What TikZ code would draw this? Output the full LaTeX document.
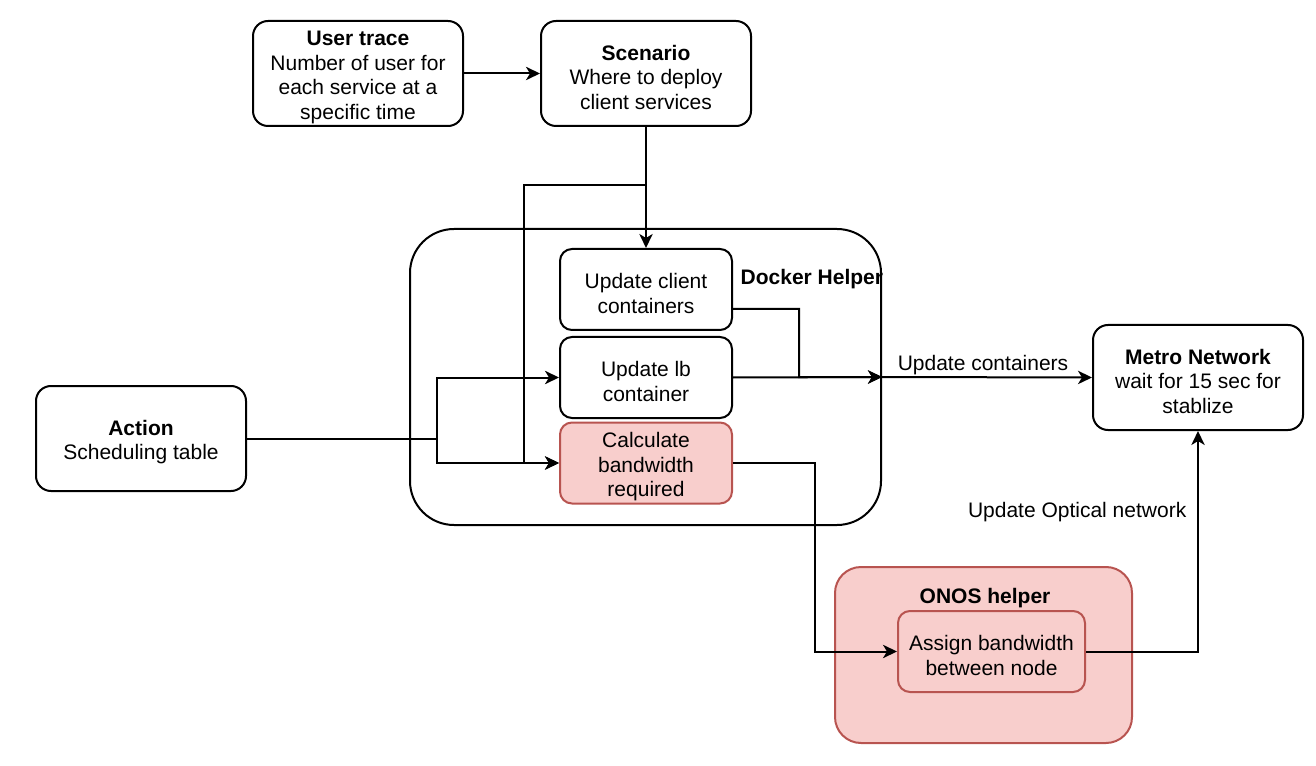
\documentclass[tikz,border=0pt]{standalone}
\usepackage{fontspec}
\setmainfont{Liberation Sans}
\usetikzlibrary{arrows.meta}
\definecolor{pinkfill}{HTML}{F8CECC}
\definecolor{pinkline}{HTML}{B85450}
\begin{document}
\begin{tikzpicture}[x=0.75pt,y=-0.75pt,
  font=\fontsize{15.75}{18.4}\selectfont,
  box/.style={draw=black,line width=1.5pt,rounded corners=11.25pt,inner sep=0pt,
    minimum width=157.5pt,minimum height=78.75pt,fill=white},
  inbox/.style={draw=black,line width=1.5pt,rounded corners=9pt,inner sep=0pt,
    minimum width=129pt,minimum height=60.75pt,fill=white},
  pinkbox/.style={fill=pinkfill,draw=pinkline},
  txt/.style={align=center,inner sep=0pt},
  arr/.style={line width=1.5pt,-{Stealth[length=10.5pt,width=10pt,inset=3pt]}},
  ln/.style={line width=1.5pt}]
\useasboundingbox (0,0) rectangle (1316,766);
% containers
\node[draw=black,line width=1.5pt,rounded corners=33pt,minimum width=353.25pt,minimum height=222pt,inner sep=0pt] (dh) at (645.5,377) {};
\node[font=\fontsize{15.75}{18.4}\selectfont\bfseries,anchor=west] (dhl) at (736,279) {Docker Helper};
\node[fill=pinkfill,draw=pinkline,line width=1.5pt,rounded corners=19.5pt,minimum width=222.75pt,minimum height=132pt,inner sep=0pt] (onos) at (983.5,655) {};
\node[font=\fontsize{15.75}{18.4}\selectfont\bfseries] (onl) at (985,598) {ONOS helper};
% boxes
\node[box] (ut) at (358,73.5) {};
\node[box] (sc) at (646,73.5) {};
\node[box] (ac) at (141,438.5) {};
\node[box] (mn) at (1198,377.5) {};
\node[inbox] (uc) at (646,289.5) {};
\node[inbox] (lb) at (646,377.5) {};
\node[inbox,pinkbox] (cb) at (646,463) {};
\node[inbox,pinkbox,minimum width=140.25pt] (ab) at (991.5,651.5) {};
% box texts
\node[txt] (utt) at ([yshift=-2.8pt]ut.center) {\textbf{User trace}\\Number of user for\\each service at a\\specific time};
\node[txt] (sct) at ([yshift=-2.8pt]sc.center) {\textbf{Scenario}\\Where to deploy\\client services};
\node[txt] (act) at ([yshift=-2.8pt]ac.center) {\textbf{Action}\\Scheduling table};
\node[txt] (mnt) at ([yshift=-2.8pt]mn.center) {\textbf{Metro Network}\\wait for 15 sec for\\stablize};
\node[txt] (uct) at ([yshift=-2.8pt]uc.center) {Update client\\containers};
\node[txt] (lbt) at ([yshift=-2.8pt]lb.center) {Update lb\\container};
\node[txt] (cbt) at ([yshift=-2.8pt]cb.center) {Calculate\\bandwidth\\required};
\node[txt] (abt) at ([yshift=-2.8pt]ab.center) {Assign bandwidth\\between node};
% helper coordinates
\coordinate (j1) at (646,185);
\coordinate (k1) at (524,185);
\coordinate (j2) at (437,438.5);
\coordinate (k3) at (799,309);
\coordinate (k4) at (815,463);
% connectors
\draw[arr] (ut.east) -- (sc.west);
\draw[arr] (sc.south) -- (uc.north);
\draw[arr] (j1) -- (k1) |- (cb.west);
\draw[ln] (ac.east) -- (j2);
\draw[arr] (j2) |- (lb.west);
\draw[arr] (j2) |- (cb.west);
\draw[arr] ([yshift=-14.6pt]uc.east) -- (k3) |- (dh.east);
\draw[arr] (lb.east) -- (dh.east);
\draw[arr] (dh.east) -- (mn.west);
\draw[arr] (cb.east) -- (k4) |- (ab.west);
\draw[arr] (ab.east) -| (mn.south);
% labels
\node (l1) at (983,365) {Update containers};
\node[anchor=east] (l2) at (1191,512) {Update Optical network};
\end{tikzpicture}
\end{document}
